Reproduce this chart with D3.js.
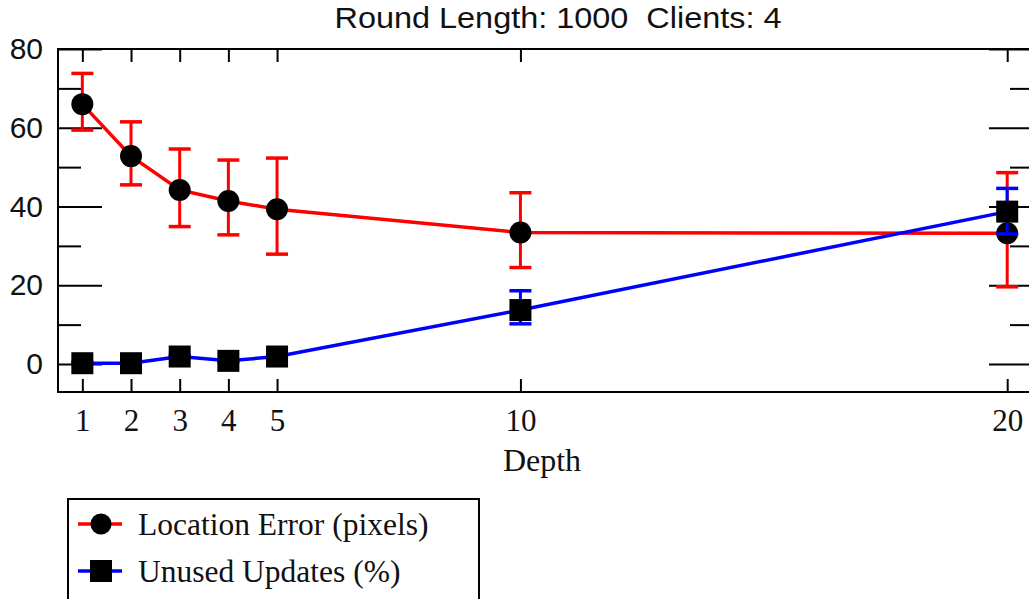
<!DOCTYPE html>
<html>
<head>
<meta charset="utf-8">
<script src="https://cdn.jsdelivr.net/npm/d3@7"></script>
<style>
  body { margin: 0; background: #fff; }
  svg { display: block; }
</style>
</head>
<body>
<svg id="chart" width="1029" height="599"></svg>
<script>
// values
var depths = [1, 2, 3, 4, 5, 10, 20];
var locErr   = [66.0, 52.8, 44.2, 41.4, 39.3, 33.4, 33.2];
var locErrHi = [73.8, 61.5, 54.6, 51.8, 52.3, 43.5, 48.6];
var locErrLo = [59.4, 45.5, 34.9, 32.8, 27.9, 24.5, 19.6];
var unused   = [0.2, 0.2, 1.9, 0.8, 1.9, 13.7, 38.7];
var unusedHi = [0.5, 0.5, 2.2, 1.1, 2.2, 18.6, 44.6];
var unusedLo = [0.0, 0.0, 1.6, 0.5, 1.6, 10.2, 33.0];
var yMajor = [0, 20, 40, 60, 80];
var yMinor = [10, 30, 50, 70];
var seriesNames = ["Location Error (pixels)", "Unused Updates (%)"];
var titleText = "Round Length: 1000  Clients: 4";

var plotLeft = 58, plotRight = 1033, plotTop = 49, plotBottom = 392;

var svg = d3.select("#chart");

var x = d3.scaleLinear().domain([0.5, 20.53]).range([plotLeft, plotRight]);
var y = d3.scaleLinear().domain([-7.11, 80]).range([plotBottom, plotTop]);

// title
svg.append("text")
  .attr("x", 558).attr("y", 28)
  .attr("text-anchor", "middle")
  .attr("textLength", 447)
  .attr("lengthAdjust", "spacingAndGlyphs")
  .style("white-space", "pre")
  .style("font-family", "Liberation Sans, Arial, sans-serif")
  .style("font-size", "30px")
  .attr("fill", "#111")
  .text(titleText);

// frame
svg.append("rect")
  .attr("x", plotLeft).attr("y", plotTop)
  .attr("width", plotRight - plotLeft).attr("height", plotBottom - plotTop)
  .attr("fill", "none").attr("stroke", "#000").attr("stroke-width", 2);

function styleAxis(g) {
  g.select(".domain").remove();
  g.selectAll(".tick line").attr("stroke", "#000").attr("stroke-width", 2);
}

// left axis, major + minor
svg.append("g")
  .attr("transform", "translate(" + plotLeft + ",0)")
  .call(d3.axisLeft(y).tickValues(yMajor).tickSize(-44).tickPadding(15))
  .call(styleAxis)
  .selectAll("text")
  .style("font-family", "Liberation Sans, Arial, sans-serif")
  .style("font-size", "30px")
  .attr("fill", "#111");

svg.append("g")
  .attr("transform", "translate(" + plotLeft + ",0)")
  .call(d3.axisLeft(y).tickValues(yMinor).tickSize(-23).tickFormat(""))
  .call(styleAxis);

// right axis (no labels)
svg.append("g")
  .attr("transform", "translate(" + plotRight + ",0)")
  .call(d3.axisRight(y).tickValues(yMajor).tickSize(-44).tickFormat(""))
  .call(styleAxis);
svg.append("g")
  .attr("transform", "translate(" + plotRight + ",0)")
  .call(d3.axisRight(y).tickValues(yMinor).tickSize(-23).tickFormat(""))
  .call(styleAxis);

// bottom axis
svg.append("g")
  .attr("transform", "translate(0," + plotBottom + ")")
  .call(d3.axisBottom(x).tickValues(depths).tickSize(-13).tickPadding(17))
  .call(styleAxis)
  .selectAll("text")
  .style("font-family", "Liberation Serif, Times New Roman, serif")
  .style("font-size", "31px")
  .attr("fill", "#111");

// top axis
svg.append("g")
  .attr("transform", "translate(0," + plotTop + ")")
  .call(d3.axisTop(x).tickValues(depths).tickSize(-13).tickFormat(""))
  .call(styleAxis);

// x label
svg.append("text")
  .attr("x", 542).attr("y", 471)
  .attr("text-anchor", "middle")
  .style("font-family", "Liberation Serif, Times New Roman, serif")
  .style("font-size", "32px")
  .attr("fill", "#111")
  .text("Depth");

function drawSeries(vals, hi, lo, color, shape) {
  var line = d3.line()
    .x(function(d, i) { return x(depths[i]); })
    .y(function(d) { return y(d); });

  svg.append("path")
    .datum(vals)
    .attr("d", line)
    .attr("fill", "none")
    .attr("stroke", color)
    .attr("stroke-width", 3.5);

  var eb = svg.append("g");
  eb.selectAll(".bar")
    .data(depths)
    .enter().append("line")
    .attr("x1", function(d) { return x(d); })
    .attr("x2", function(d) { return x(d); })
    .attr("y1", function(d, i) { return y(hi[i]); })
    .attr("y2", function(d, i) { return y(lo[i]); })
    .attr("stroke", color).attr("stroke-width", 3);
  eb.selectAll(".capHi")
    .data(depths)
    .enter().append("line")
    .attr("x1", function(d) { return x(d) - 11; })
    .attr("x2", function(d) { return x(d) + 11; })
    .attr("y1", function(d, i) { return y(hi[i]); })
    .attr("y2", function(d, i) { return y(hi[i]); })
    .attr("stroke", color).attr("stroke-width", 3.5);
  eb.selectAll(".capLo")
    .data(depths)
    .enter().append("line")
    .attr("x1", function(d) { return x(d) - 11; })
    .attr("x2", function(d) { return x(d) + 11; })
    .attr("y1", function(d, i) { return y(lo[i]); })
    .attr("y2", function(d, i) { return y(lo[i]); })
    .attr("stroke", color).attr("stroke-width", 3.5);

  if (shape == "circle") {
    svg.append("g").selectAll("circle")
      .data(vals)
      .enter().append("circle")
      .attr("cx", function(d, i) { return x(depths[i]); })
      .attr("cy", function(d) { return y(d); })
      .attr("r", 11)
      .attr("fill", "#000");
  } else {
    svg.append("g").selectAll("rect")
      .data(vals)
      .enter().append("rect")
      .attr("x", function(d, i) { return x(depths[i]) - 11; })
      .attr("y", function(d) { return y(d) - 11; })
      .attr("width", 22).attr("height", 22)
      .attr("fill", "#000");
  }
}

drawSeries(locErr, locErrHi, locErrLo, "#ff0000", "circle");
drawSeries(unused, unusedHi, unusedLo, "#0000ff", "square");

// legend
var legend = svg.append("g");
legend.append("rect")
  .attr("x", 68).attr("y", 499)
  .attr("width", 411).attr("height", 120)
  .attr("fill", "#fff").attr("stroke", "#000").attr("stroke-width", 2);

var legendColors = ["#ff0000", "#0000ff"];
var legendY = [524, 571];
seriesNames.forEach(function(name, i) {
  legend.append("line")
    .attr("x1", 78).attr("x2", 122)
    .attr("y1", legendY[i]).attr("y2", legendY[i])
    .attr("stroke", legendColors[i]).attr("stroke-width", 3.5);
  if (i == 0) {
    legend.append("circle")
      .attr("cx", 101).attr("cy", legendY[i]).attr("r", 10.5)
      .attr("fill", "#000");
  } else {
    legend.append("rect")
      .attr("x", 90).attr("y", legendY[i] - 11)
      .attr("width", 22).attr("height", 22)
      .attr("fill", "#000");
  }
  legend.append("text")
    .attr("x", 138).attr("y", legendY[i] + 11)
    .style("font-family", "Liberation Serif, Times New Roman, serif")
    .style("font-size", "31.5px")
    .attr("fill", "#111")
    .text(name);
});
</script>
</body>
</html>
